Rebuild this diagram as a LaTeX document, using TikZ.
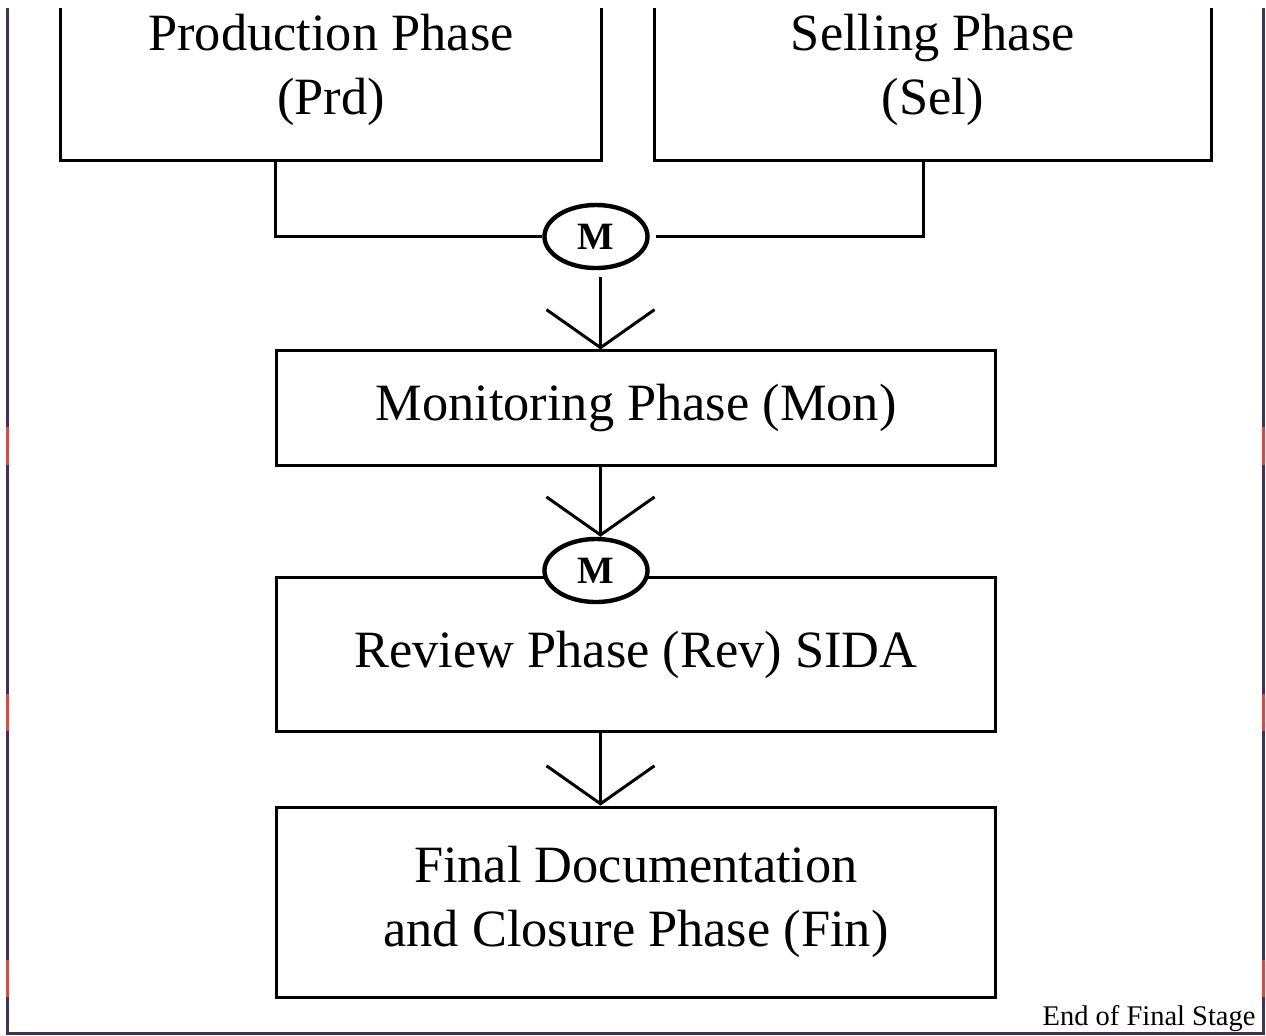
\documentclass[tikz,border=0pt]{standalone}
\usepackage{fontspec}
\setmainfont{Liberation Serif}
\usetikzlibrary{shapes.geometric, positioning, arrows.meta}
\definecolor{framepurple}{RGB}{62,51,86}
\definecolor{framered}{RGB}{200,81,76}

\begin{document}
\begin{tikzpicture}[x=0.01cm, y=-0.01cm, on grid, line width=0.85pt,
    phase/.style={draw, rectangle, align=center, inner sep=0pt, minimum width=7.18cm,
      font=\fontsize{14.9}{18.3}\selectfont},
    merge/.style={draw, fill=white, ellipse, line width=1.25pt, minimum width=1.03cm, minimum height=0.63cm,
      inner sep=0pt, font=\fontsize{11}{13}\selectfont\bfseries},
    flow/.style={-{Straight Barb[length=3.8mm, width=10.8mm, line width=0.85pt]}}]
      \useasboundingbox (0,0) rectangle (1266,1035);
      \clip (0,8) rectangle (1266,1035);

      % Frame
      \draw[framepurple] (7.5,8) -- (7.5,1033) -- (1263.5,1033) -- (1263.5,8);
      \foreach \ya/\yb in {427/465, 694/731, 960/997} {
        \draw[framered] (7.5,\ya) -- (7.5,\yb);
        \draw[framered] (1263.5,\ya) -- (1263.5,\yb);
      }

      % Nodes
      \coordinate (axis) at (600.5,0);
      \node[phase, minimum width=5.4cm, minimum height=1.8cm] (prod) at (331,70) {Production Phase\\(Prd)};
      \node[phase, minimum width=5.57cm, minimum height=1.8cm] (sel) [right=6.015cm of prod] {Selling Phase\\(Sel)};
      \node[merge]                             (m1) at (596,236.5) {M};
      \node[phase, minimum height=1.14cm]      (mon) at (636,408) {\raisebox{-2pt}{Monitoring Phase (Mon)}};
      \node[phase, minimum height=1.53cm]      (rev) at (636,654.5) {Review Phase (Rev) SIDA};
      \node[merge]                             (m2) at (596,570.5) {M};
      \node[phase, minimum height=1.9cm]       (fin) [below=2.475cm of rev] {Final Documentation\\and Closure Phase (Fin)};
      \node[anchor=base east, inner sep=0pt, font=\fontsize{8.1}{10}\selectfont] (stage) at (1257,1025) {End of Final Stage};

      % Edges
      \draw (prod.south -| mon.west) |- (m1.west);
      \draw[shorten >=0.06cm] ([xshift=-0.095cm]sel.south) |- (m1.east);
      \draw[flow] ([yshift=-0.07cm]m1.south -| axis) -- (mon.north -| axis);
      \draw[flow] (mon.south -| axis) -- (m2.north -| axis);
      \draw[flow] (rev.south -| axis) -- (fin.north -| axis);
    \end{tikzpicture}
\end{document}
